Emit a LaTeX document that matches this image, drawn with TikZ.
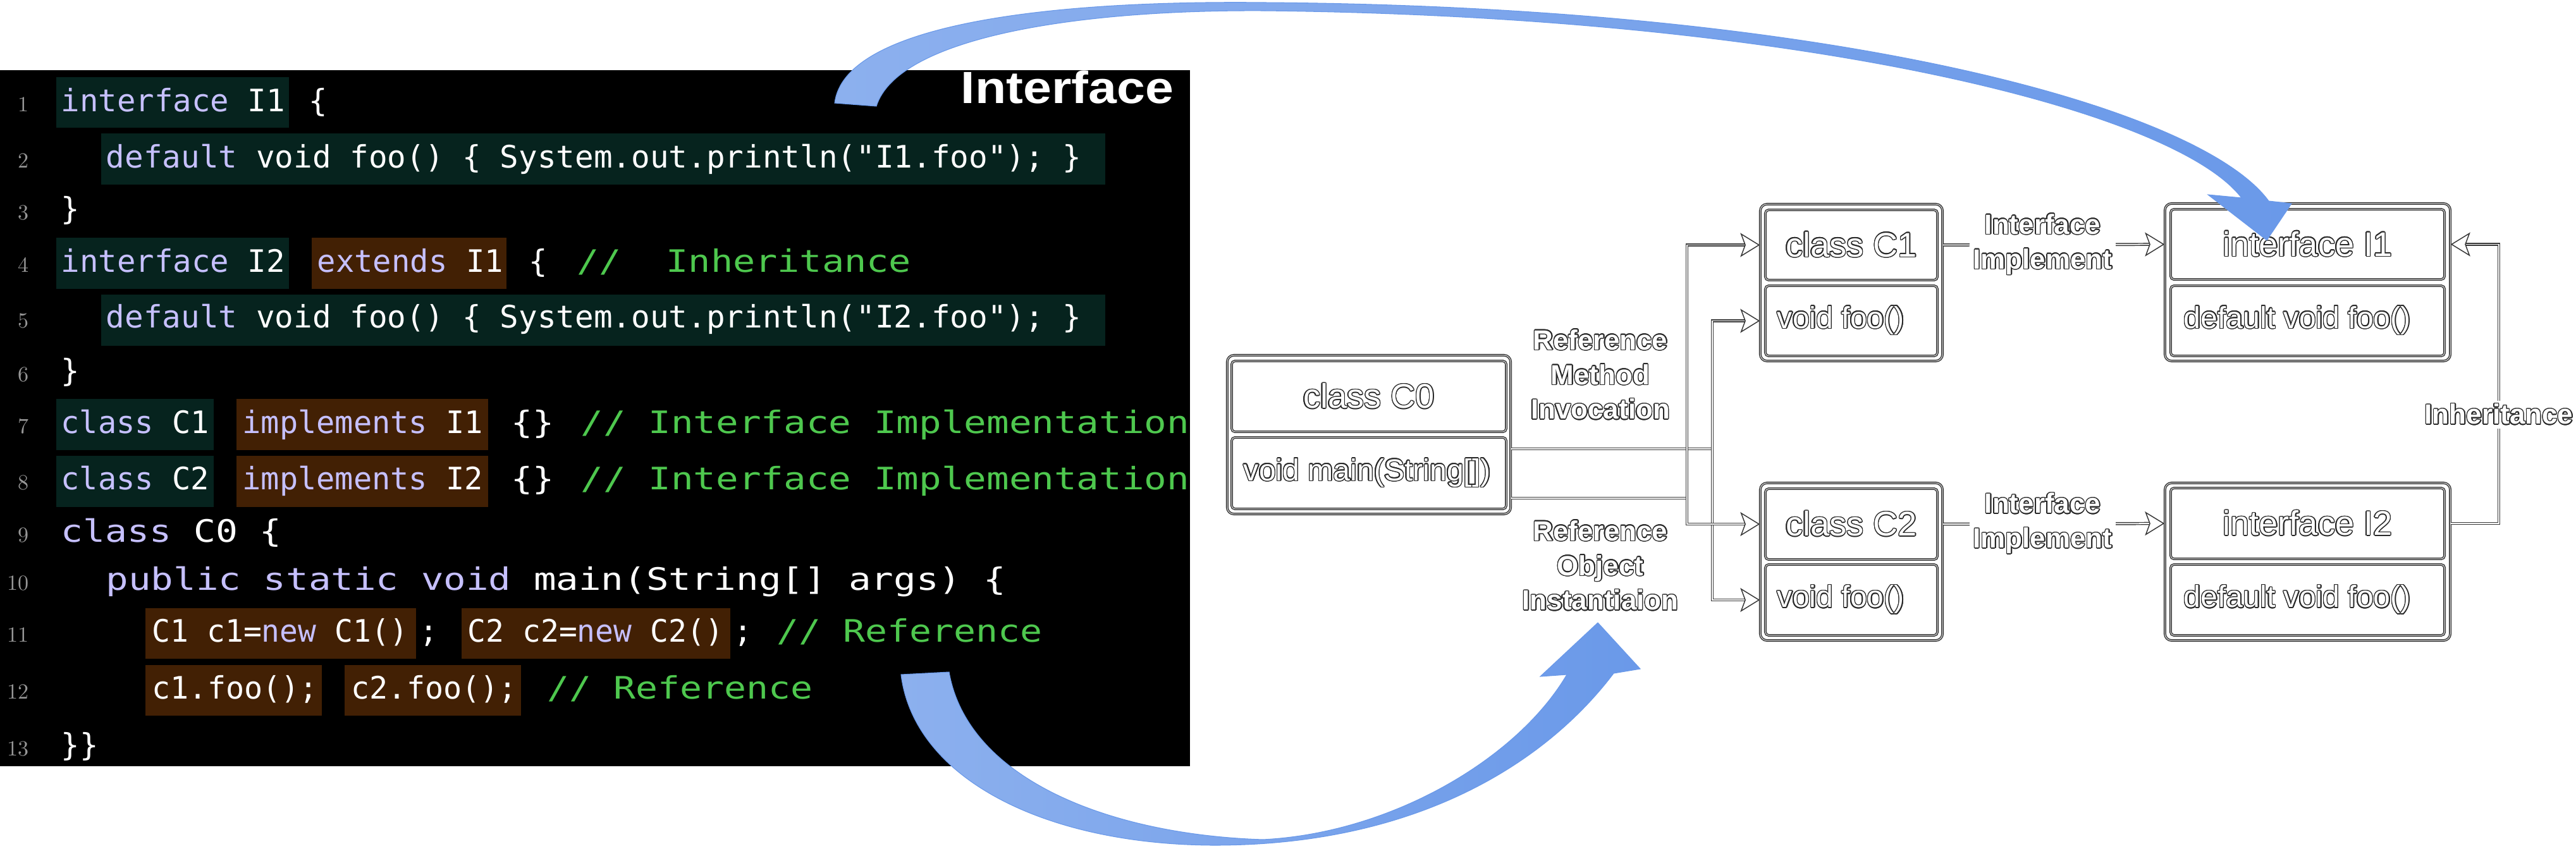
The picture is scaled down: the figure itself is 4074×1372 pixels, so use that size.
\documentclass[tikz,border=0pt]{standalone}
\usepackage{fontspec}
\usepackage{graphicx}
\usepackage{contour}
\usetikzlibrary{arrows.meta,calc}
\newfontfamily\codefont{DejaVu Sans Mono}
\newfontfamily\arial{Liberation Sans}
\definecolor{tealbg}{RGB}{6,35,30}
\definecolor{brownbg}{RGB}{66,32,4}
\definecolor{kwcol}{RGB}{198,192,255}
\definecolor{cmcol}{RGB}{78,200,78}
\definecolor{numcol}{RGB}{150,150,150}
\definecolor{outl}{RGB}{40,40,40}
\definecolor{blueA}{RGB}{140,176,238}
\definecolor{blueB}{RGB}{106,153,233}
\contourlength{0.4pt}
\newcommand{\kw}[1]{\textcolor{kwcol}{#1}}
\newcommand{\cm}[1]{\textcolor{cmcol}{#1}}
\newcommand{\cseg}[2]{\resizebox{#1}{\height}{#2}}
\newcommand{\ot}[1]{\contour{outl}{#1}}
\tikzset{
  code/.style={anchor=base west, inner sep=0pt, text=white, font=\codefont\fontsize{13.9pt}{14pt}\selectfont},
  lnum/.style={anchor=base east, inner sep=0pt, text=numcol, font=\fontsize{9.7pt}{10pt}\selectfont},
  outerbox/.style={draw=black!80, double=black!20, line width=0.38pt, double distance=0.35pt, rounded corners=3pt, inner sep=0pt},
  comp/.style={draw=black!80, double=black!20, line width=0.38pt, double distance=0.35pt, rounded corners=1.5pt, inner sep=0pt},
  clsname/.style={inner sep=0pt, text=white, font=\arial\fontsize{15.4pt}{17pt}\selectfont},
  meth/.style={inner sep=0pt, text=white, font=\arial\fontsize{13.7pt}{15pt}\selectfont},
  lab/.style={inner sep=1.5pt, text=white, align=center, font=\arial\bfseries\fontsize{12.5pt}{15.6pt}\selectfont},
  conn/.style={draw=black!78, double=white, line width=0.42pt, double distance=0.5pt},
  arr/.style={-{Stealth[open, length=8.8pt, width=10.8pt, inset=2pt]}},
  bluearrow/.style={left color=blueA, right color=blueB, draw=blueB, line width=0.3pt}
}
\begin{document}
\begin{tikzpicture}[x=0.01cm, y=-0.01cm]
\useasboundingbox (0,0) rectangle (4074,1372);
\fill[white] (0,0) rectangle (4074,1372);
% code panel
\fill[black] (0,111) rectangle (1882,1212);
\foreach \n/\yy in {1/176,2/265,3/347,4/430,5/518,6/603,7/685,8/774,9/857,10/933,11/1015,12/1105,13/1195}
  \node[lnum] (num\n) at (46,\yy) {\n};
% L1
\fill[tealbg] (89,122) rectangle (457,202);
\node[code] (l1a) at (96,176) {\cseg{3.54cm}{\kw{interface} I1}};
\node[code] (l1b) at (488,176) {\{};
% L2
\fill[tealbg] (160,211) rectangle (1748,292);
\node[code] (l2a) at (167,265) {\cseg{15.42cm}{\kw{default} void foo() \{ System.out.println("I1.foo"); \}}};
% L3
\node[code] (l3a) at (96,347) {\}};
% L4
\fill[tealbg] (89,376) rectangle (457,457);
\node[code] (l4a) at (96,430) {\cseg{3.54cm}{\kw{interface} I2}};
\fill[brownbg] (493,376) rectangle (801,457);
\node[code] (l4b) at (501,430) {\cseg{2.94cm}{\kw{extends} I1}};
\node[code] (l4c) at (836,430) {\{};
\node[code] (l4d) at (912,430) {\cseg{5.28cm}{\cm{//\ \ Inheritance}}};
% L5
\fill[tealbg] (160,466) rectangle (1748,547);
\node[code] (l5a) at (167,518) {\cseg{15.42cm}{\kw{default} void foo() \{ System.out.println("I2.foo"); \}}};
% L6
\node[code] (l6a) at (96,603) {\}};
% L7
\fill[tealbg] (89,631) rectangle (338,712);
\node[code] (l7a) at (96,685) {\cseg{2.34cm}{\kw{class} C1}};
\fill[brownbg] (374,631) rectangle (772,712);
\node[code] (l7b) at (383,685) {\cseg{3.8cm}{\kw{implements} I1}};
\node[code] (l7c) at (808,685) {\cseg{0.68cm}{\{\}}};
\node[code] (l7d) at (918,685) {\cseg{9.62cm}{\cm{// Interface Implementation}}};
% L8
\fill[tealbg] (89,721) rectangle (338,802);
\node[code] (l8a) at (96,774) {\cseg{2.34cm}{\kw{class} C2}};
\fill[brownbg] (374,721) rectangle (772,802);
\node[code] (l8b) at (383,774) {\cseg{3.8cm}{\kw{implements} I2}};
\node[code] (l8c) at (808,774) {\cseg{0.68cm}{\{\}}};
\node[code] (l8d) at (918,774) {\cseg{9.62cm}{\cm{// Interface Implementation}}};
% L9
\node[code] (l9a) at (96,857) {\cseg{3.49cm}{\kw{class} C0 \{}};
% L10
\node[code] (l10a) at (167,933) {\cseg{14.23cm}{\kw{public static void} main(String[] args) \{}};
% L11
\fill[brownbg] (230,962) rectangle (658,1042);
\node[code] (l11a) at (240,1015) {\cseg{4.04cm}{C1 c1=\kw{new} C1()}};
\node[code] (l11b) at (663,1015) {;};
\fill[brownbg] (730,962) rectangle (1155,1042);
\node[code] (l11c) at (739,1015) {\cseg{4.04cm}{C2 c2=\kw{new} C2()}};
\node[code] (l11d) at (1160,1015) {;};
\node[code] (l11e) at (1228,1015) {\cseg{4.2cm}{\cm{// Reference}}};
% L12
\fill[brownbg] (230,1052) rectangle (509,1132);
\node[code] (l12a) at (240,1105) {\cseg{2.62cm}{c1.foo();}};
\fill[brownbg] (545,1052) rectangle (824,1132);
\node[code] (l12b) at (555,1105) {\cseg{2.62cm}{c2.foo();}};
\node[code] (l12c) at (865,1105) {\cseg{4.2cm}{\cm{// Reference}}};
% L13
\node[code] (l13a) at (96,1195) {\}\}};
% title
\node[anchor=base west, inner sep=0pt, text=white] (title) at (1519,163) {\resizebox{3.36cm}{\height}{\arial\bfseries\fontsize{20.3pt}{21pt}\selectfont Interface}};

% ---------- right diagram ----------
% C0
\node[outerbox, minimum width=4.48cm, minimum height=2.51cm] (C0) at (2165,687.5) {};
\node[comp, minimum width=4.34cm, minimum height=1.12cm] (C0t) at (2165,627) {};
\node[clsname] (C0n) at (C0t) {\ot{class C0}};
\node[comp, minimum width=4.34cm, minimum height=1.13cm] (C0b) at (2165,748.5) {};
\node[meth, anchor=west] (C0m) at ([xshift=0.19cm]C0b.west) {\ot{void main(String[])}};
% C1
\node[outerbox, minimum width=2.88cm, minimum height=2.48cm] (C1) at (2928,447) {};
\node[comp, minimum width=2.72cm, minimum height=1.11cm] (C1t) at (2928,387.5) {};
\node[clsname] (C1n) at (C1t) {\ot{class C1}};
\node[comp, minimum width=2.72cm, minimum height=1.11cm] (C1b) at (2928,507.5) {};
\node[meth, anchor=west] (C1m) at ([xshift=0.19cm]C1b.west) {\ot{void foo()}};
% C2
\node[outerbox, minimum width=2.88cm, minimum height=2.49cm] (C2) at (2928,888.5) {};
\node[comp, minimum width=2.72cm, minimum height=1.12cm] (C2t) at (2928,829) {};
\node[clsname] (C2n) at (C2t) {\ot{class C2}};
\node[comp, minimum width=2.72cm, minimum height=1.12cm] (C2b) at (2928,949) {};
\node[meth, anchor=west] (C2m) at ([xshift=0.19cm]C2b.west) {\ot{void foo()}};
% I1
\node[outerbox, minimum width=4.51cm, minimum height=2.49cm] (I1) at (3649.5,446.5) {};
\node[comp, minimum width=4.33cm, minimum height=1.11cm] (I1t) at (3649.5,386.5) {};
\node[clsname] (I1n) at (I1t) {\ot{interface I1}};
\node[comp, minimum width=4.33cm, minimum height=1.11cm] (I1b) at (3649.5,507.5) {};
\node[meth, anchor=west] (I1m) at ([xshift=0.21cm]I1b.west) {\ot{default void foo()}};
% I2
\node[outerbox, minimum width=4.51cm, minimum height=2.49cm] (I2) at (3649.5,888.5) {};
\node[comp, minimum width=4.33cm, minimum height=1.12cm] (I2t) at (3649.5,828) {};
\node[clsname] (I2n) at (I2t) {\ot{interface I2}};
\node[comp, minimum width=4.33cm, minimum height=1.12cm] (I2b) at (3649.5,949) {};
\node[meth, anchor=west] (I2m) at ([xshift=0.21cm]I2b.west) {\ot{default void foo()}};

% connectors from C0
\coordinate (mi) at (2708,710);
\coordinate (oi) at (2668,788);
\draw[conn] (C0.east |- mi) -- (mi);
\draw[conn] (C0.east |- oi) -- (oi);
\draw[conn, arr] (mi) |- (C1b.west -| C1.west);
\draw[conn, arr] (mi) |- (C2b.west -| C2.west);
\draw[conn, arr] (oi) |- (C1t.west -| C1.west);
\draw[conn, arr] (oi) |- (C2t.west -| C2.west);
\node[lab] (R1) at (2531,593) {\ot{Reference}\\\ot{Method}\\\ot{Invocation}};
\node[lab] (R2) at (2531,895) {\ot{Reference}\\\ot{Object}\\\ot{Instantiaion}};
% implements
\draw[conn, arr] (C1t.east -| C1.east) -- node[lab, fill=white, pos=0.45] (L1) {\ot{Interface}\\\ot{Implement}} (I1t.west -| I1.west);
\draw[conn, arr] (C2t.east -| C2.east) -- node[lab, fill=white, pos=0.45] (L2) {\ot{Interface}\\\ot{Implement}} (I2t.west -| I2.west);
% inheritance
\coordinate (ia) at (3952,828);
\coordinate (ib) at (3952,386.5);
\draw[conn, arr] (I2t.east -| I2.east) -- (ia) -- node[lab, fill=white, pos=0.39] (L3) {\ot{Inheritance}} (ib) -- (I1t.east -| I1.east);

% blue curved arrows
\shadedraw[bluearrow] (1320,163) .. controls (1335,40) and (1650,0) .. (2000,4)
  .. controls (2900,10) and (3480,170) .. (3588,318) -- (3624,322) -- (3585,380) -- (3492,308) -- (3545,313)
  .. controls (3440,175) and (2850,26) .. (2000,17)
  .. controls (1700,15) and (1420,60) .. (1386,168) -- cycle;
\shadedraw[bluearrow] (1425,1067) .. controls (1445,1230) and (1650,1336) .. (1920,1337)
  .. controls (2250,1337) and (2450,1200) .. (2552,1065) -- (2594,1058) -- (2527,985) -- (2436,1070) -- (2478,1067)
  .. controls (2400,1200) and (2200,1318) .. (1997,1328)
  .. controls (1750,1320) and (1530,1230) .. (1501,1063) -- cycle;
\end{tikzpicture}
\end{document}
